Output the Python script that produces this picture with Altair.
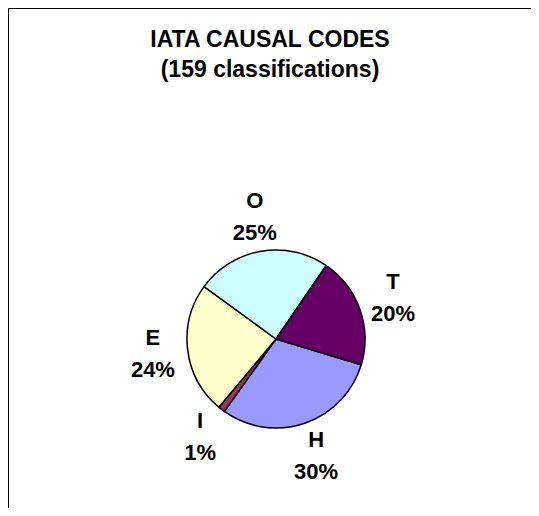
import altair as alt
import pandas as pd
import math

categories = ["H", "I", "E", "O", "T"]
counts = [48, 2, 38, 39, 32]
colors = ["#9999FF", "#993366", "#FFFFCC", "#CCFFFF", "#660066"]
title_lines = ["IATA CAUSAL CODES", "(159 classifications)"]

df = pd.DataFrame({"cat": categories, "count": counts, "idx": list(range(len(categories)))})

start = math.radians(106.8)
theta_scale = alt.Scale(range=[start, start + 2 * math.pi])
cx, cy = 268, 331

base = alt.Chart(df).transform_joinaggregate(
    total="sum(count)"
).transform_calculate(
    label="datum.cat + '\\n' + format(datum.count / datum.total, '.0%')"
).encode(
    theta=alt.Theta("count:Q", stack=True, scale=theta_scale),
    order=alt.Order("idx:Q"),
    x=alt.value(cx),
    y=alt.value(cy),
)

pie = base.mark_arc(outerRadius=89, stroke="black", strokeWidth=1.5).encode(
    color=alt.Color("cat:N", scale=alt.Scale(domain=categories, range=colors), legend=None)
)

labels = base.mark_text(
    radius=124, dy=-16, font="Liberation Sans", fontWeight="bold", fontSize=22,
    lineBreak="\n", lineHeight=32, baseline="middle", align="center", color="black"
).encode(text="label:N")

tdf = pd.DataFrame({"t": title_lines})
title1 = alt.Chart(tdf).transform_filter(alt.datum.t == title_lines[0]).mark_text(
    font="Liberation Sans", fontWeight="bold", fontSize=23, baseline="middle", align="center", color="black"
).encode(text="t:N", x=alt.value(262), y=alt.value(32))
title2 = alt.Chart(tdf).transform_filter(alt.datum.t == title_lines[1]).mark_text(
    font="Liberation Sans", fontWeight="bold", fontSize=23, baseline="middle", align="center", color="black"
).encode(text="t:N", x=alt.value(262), y=alt.value(62))

frame = alt.Chart(tdf).transform_filter(alt.datum.t == title_lines[0]).mark_rect(
    fill="transparent", stroke="black", strokeWidth=2
).encode(x=alt.value(0), x2=alt.value(640), y=alt.value(0), y2=alt.value(640))

chart = alt.layer(frame, pie, labels, title1, title2).properties(
    width=523, height=500, autosize=alt.AutoSizeParams(type="none"), padding=0
).configure_view(stroke="transparent")

chart.save("out.html", embed_options={"renderer": "svg", "actions": False})
